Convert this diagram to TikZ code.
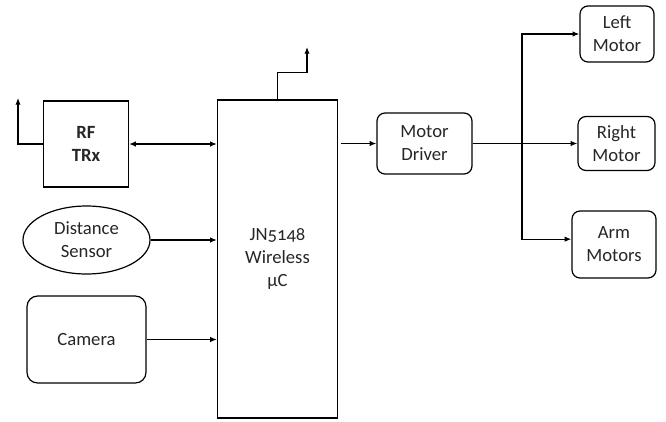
\documentclass[tikz,border=0pt]{standalone}
\usepackage{fontspec}
\setmainfont{Carlito}[Numbers=OldStyle]
\usetikzlibrary{arrows.meta,shapes.geometric}
\begin{document}
\begin{tikzpicture}[x=0.75pt, y=-0.75pt,
    every node/.style={font=\fontsize{14}{17.25}\selectfont, align=center, inner sep=0pt, text=black!85},
    blk/.style={draw, line width=0.9pt, rectangle},
    rblk/.style={blk, rounded corners=6pt},
    sensor/.style={draw, line width=0.9pt, ellipse},
    link/.style={line width=0.9pt, -{Latex[length=5pt,width=4pt]}}]
  \useasboundingbox (0,0) rectangle (666,421);
  % Left column
  \node[blk, minimum width=63.75pt, minimum height=64.5pt, font=\fontsize{14}{17.25}\selectfont\bfseries] (rf) at (86,144) {RF\\TRx};
  \node[sensor, minimum width=95.25pt, minimum height=51pt] (dist) at (86.5,240) {Distance\\Sensor};
  \node[rblk, rounded corners=8pt, minimum width=89.25pt, minimum height=65.25pt] (cam) at (86.5,339.5) {Camera};
  % Controller
  \node[blk, minimum width=90pt, minimum height=238.5pt] (mcu) at (277.5,259) {JN5148\\Wireless\\µC};
  % Driver and motors
  \node[rblk, minimum width=71.25pt, minimum height=45.75pt] (drv) at (424.5,143.5) {Motor\\Driver};
  \node[rblk, minimum width=55.5pt, minimum height=42pt] (lmot) at (617,34) {Left\\Motor};
  \node[rblk, minimum width=57.75pt, minimum height=40.5pt] (rmot) at (616.5,143.5) {Right\\Motor};
  \node[rblk, minimum width=63pt, minimum height=50.25pt] (amot) at (614,244.5) {Arm\\Motors};
  % Antennas
  \coordinate (rfant) at (18,98);
  \coordinate (mcuant) at (307,47);
  \draw[link] (rf.west) -| (rfant);
  \draw[link] (mcu.north) -- ++(0,-27) -| (mcuant);
  % Inputs to controller
  \draw[link, {Latex[length=5pt,width=4pt]}-{Latex[length=5pt,width=4pt]}] (rf.east) -- (rf.east -| mcu.west);
  \draw[link] (dist.east) -- (dist.east -| mcu.west);
  \draw[link] (cam.east) -- (cam.east -| mcu.west);
  % Controller to driver
  \draw[link, shorten <=2.5pt] (drv.west -| mcu.east) -- (drv.west);
  % Branch to motors
  \coordinate (split) at (522,143.5);
  \draw[line width=0.9pt] (drv.east) -- (split);
  \draw[link] (split) -- (split -| rmot.west);
  \draw[link] (split) |- (lmot.west);
  \draw[link] (split) |- ([yshift=4pt]amot.west);
\end{tikzpicture}
\end{document}
